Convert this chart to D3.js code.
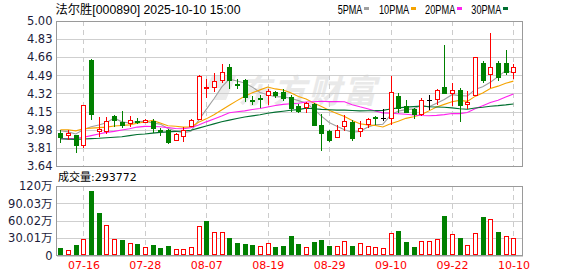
<!DOCTYPE html>
<html><head><meta charset="utf-8">
<script src="https://cdn.jsdelivr.net/npm/d3@7"></script>
<style>html,body{margin:0;padding:0;background:#fff;}svg{display:block;}</style>
</head><body>
<svg id="chart" width="578" height="276"></svg>
<script>
const dates = ["07-11","07-14","07-15","07-16","07-17","07-18","07-21","07-22","07-23","07-24","07-25","07-28","07-29","07-30","07-31","08-01","08-04","08-05","08-06","08-07","08-08","08-11","08-12","08-13","08-14","08-15","08-18","08-19","08-20","08-21","08-22","08-25","08-26","08-27","08-28","08-29","09-01","09-02","09-03","09-04","09-05","09-08","09-09","09-10","09-11","09-12","09-15","09-16","09-17","09-18","09-19","09-22","09-23","09-24","09-25","09-26","09-29","09-30","10-09","10-10"];
const opens = [3.95,3.928,3.93,3.837,4.634,3.971,3.968,4.106,4.056,4.04,4.06,4.053,4.059,3.975,3.978,3.884,3.924,4.015,4.078,4.376,4.384,4.447,4.569,4.41,4.447,4.262,4.275,4.303,4.334,4.334,4.29,4.206,4.193,4.226,4.025,3.965,3.915,4.018,4.056,3.964,4.034,4.10,4.09,4.087,4.297,4.203,4.172,4.132,4.26,4.266,4.381,4.328,4.35,4.217,4.303,4.606,4.50,4.603,4.603,4.519];
const highs = [3.978,3.975,3.935,4.215,4.64,4.10,4.097,4.118,4.156,4.112,4.087,4.081,4.08,3.994,3.984,3.945,4.003,4.081,4.49,4.453,4.51,4.597,4.594,4.453,4.453,4.30,4.305,4.362,4.346,4.36,4.306,4.226,4.24,4.233,4.128,3.978,4.025,4.114,4.076,4.062,4.093,4.108,4.17,4.486,4.322,4.259,4.181,4.275,4.31,4.36,4.775,4.416,4.372,4.34,4.66,4.625,4.89,4.625,4.728,4.597];
const lows = [3.856,3.884,3.762,3.806,4.07,3.909,3.937,4.009,3.994,4.009,4.034,4.05,3.952,3.921,3.843,3.878,3.868,4.003,4.07,4.275,4.337,4.416,4.365,4.36,4.243,4.212,4.18,4.215,4.275,4.252,4.144,4.134,4.137,4.012,3.784,3.868,3.903,3.97,3.874,3.915,3.994,4.02,4.062,4.025,4.14,4.134,4.081,4.109,4.165,4.21,4.315,4.203,4.053,4.175,4.30,4.423,4.369,4.44,4.498,4.456];
const closes = [3.915,3.952,3.84,4.212,4.125,3.99,4.059,4.071,4.027,4.071,4.055,4.069,3.999,3.97,3.868,3.94,3.978,4.071,4.484,4.381,4.44,4.519,4.447,4.40,4.284,4.25,4.265,4.342,4.303,4.278,4.187,4.153,4.228,4.022,3.952,3.884,3.978,4.062,3.907,3.994,4.078,4.09,4.09,4.334,4.181,4.149,4.128,4.256,4.26,4.353,4.322,4.353,4.212,4.24,4.66,4.45,4.564,4.475,4.524,4.564];
const volumes = [12.2,9.9,17.4,29,111.3,73,53.3,29,26.1,20.9,19.1,15.1,17.4,12.2,15.7,11.6,11.6,15.1,51.6,59.1,41.2,40,29.6,20.9,19.1,17.4,16.8,20.9,13.9,15.7,33,19.1,15.1,22.6,26.1,15.7,16.8,25.5,15.7,22,16.8,15.1,13.3,39.4,41.7,22.6,13.9,25.5,24.3,29,67.8,37.7,29.6,18.6,39.4,66.1,63.8,40,34.2,29.38];
const ma5 = [3.97,3.96,3.94,3.98,4.009,4.024,4.045,4.091,4.054,4.044,4.057,4.059,4.044,4.033,3.992,3.969,3.951,3.965,4.068,4.171,4.271,4.379,4.454,4.437,4.418,4.38,4.329,4.308,4.289,4.288,4.275,4.253,4.23,4.174,4.108,4.048,4.013,3.98,3.957,3.965,4.004,4.026,4.032,4.117,4.155,4.169,4.176,4.21,4.195,4.229,4.264,4.309,4.30,4.296,4.357,4.383,4.425,4.478,4.535,4.515];
const ma10 = [3.98,3.98,3.97,3.99,3.995,4.0,4.005,4.015,4.02,4.026,4.041,4.052,4.068,4.044,4.018,4.013,4.005,4.005,4.051,4.082,4.12,4.165,4.21,4.253,4.295,4.326,4.354,4.381,4.363,4.353,4.328,4.291,4.269,4.232,4.198,4.162,4.133,4.105,4.066,4.037,4.026,4.02,4.006,4.037,4.06,4.087,4.102,4.122,4.157,4.193,4.218,4.243,4.255,4.246,4.293,4.324,4.367,4.389,4.416,4.436];
const ma20 = [3.895,3.895,3.90,3.91,3.925,3.94,3.955,3.965,3.978,3.99,4.005,4.012,4.01,4.008,4.0,3.992,3.99,3.998,4.025,4.054,4.081,4.109,4.139,4.149,4.157,4.17,4.18,4.193,4.207,4.218,4.224,4.228,4.24,4.243,4.247,4.244,4.244,4.243,4.215,4.195,4.177,4.156,4.138,4.135,4.13,4.125,4.118,4.114,4.112,4.115,4.122,4.132,4.131,4.142,4.177,4.206,4.235,4.256,4.287,4.315];
const ma30 = [3.895,3.892,3.89,3.893,3.897,3.90,3.905,3.91,3.915,3.925,3.935,3.94,3.948,3.955,3.96,3.965,3.968,3.975,3.995,4.015,4.035,4.055,4.07,4.085,4.10,4.11,4.12,4.135,4.145,4.154,4.163,4.169,4.183,4.177,4.171,4.167,4.164,4.164,4.16,4.157,4.158,4.159,4.162,4.174,4.185,4.192,4.197,4.203,4.196,4.194,4.191,4.185,4.177,4.172,4.184,4.191,4.201,4.206,4.213,4.222];
const priceTicks = [3.64,3.81,3.98,4.15,4.32,4.49,4.66,4.83,5.00];
const volTicks = [0,30.01,60.02,90.03,120.04];
const volTickLabels = ["0","30.01万","60.02万","90.03万","120万"];
const dateTickLabels = ["07-16","07-28","08-07","08-19","08-29","09-10","09-22","10-10"];
const maNames = ["5PMA","10PMA","20PMA","30PMA"];
const maColors = ["#a0a0a0","#f5a300","#ff22ee","#006f30"];
const titleText = "法尔胜[000890] 2025-10-10 15:00";
const volTitle = "成交量:293772";

const RED = "#ff0000", GREEN = "#008000";
const L = 56.5, R = 522.5, PT = 21, PB = 166, VT = 186, VB = 255.5;

const svg = d3.select("#chart");
const x = d3.scaleLinear().domain([0, dates.length - 1]).range([60.4, 513.4]);
const y = d3.scaleLinear().domain([3.64, 5.00]).range([PB, PT]);
const yv = d3.scaleLinear().domain([0, 120.04]).range([VB, VT]);
const px = i => Math.round(x(i));

// watermark
const wm = svg.append("g");
wm.append("path").attr("d","M212,76 L236,76 L226,100 L214,100 L220,88 L206,88 Z").attr("fill","#ebebeb");
wm.append("text").attr("x",238).attr("y",103).attr("font-family","Noto Sans CJK SC").attr("font-size",33)
  .attr("font-weight","bold").attr("font-style","italic").attr("letter-spacing",2).attr("fill","#e9e9e9").text("东方财富");

// grids
const grid = svg.append("g").attr("shape-rendering","crispEdges");
grid.selectAll(".hp").data(priceTicks).enter().append("line")
  .attr("x1",L).attr("x2",R).attr("y1",d=>Math.round(y(d))+0.5).attr("y2",d=>Math.round(y(d))+0.5)
  .attr("stroke","#cfcfcf");
grid.selectAll(".hv").data(volTicks).enter().append("line")
  .attr("x1",L).attr("x2",R).attr("y1",d=>Math.round(yv(d))+0.5).attr("y2",d=>Math.round(yv(d))+0.5)
  .attr("stroke","#cfcfcf");
const tickIdx = dateTickLabels.map(l => dates.indexOf(l));
tickIdx.forEach(i => {
  [[PT,PB],[VT,VB]].forEach(([a,b]) => {
    grid.append("line").attr("x1",px(i)+0.5).attr("x2",px(i)+0.5).attr("y1",a).attr("y2",b)
      .attr("stroke","#cccccc").attr("stroke-dasharray","5,4");
  });
});
// frames
svg.append("rect").attr("x",L).attr("y",PT+0.5).attr("width",R-L).attr("height",PB-PT)
  .attr("fill","none").attr("stroke","#9a9a9a").attr("shape-rendering","crispEdges");
svg.append("rect").attr("x",L).attr("y",VT+0.5).attr("width",R-L).attr("height",VB-VT-0.5)
  .attr("fill","none").attr("stroke","#9a9a9a").attr("shape-rendering","crispEdges");

// MA lines
[ma5, ma10, ma20, ma30].forEach((arr, k) => {
  svg.append("path").datum(arr)
    .attr("d", d3.line().x((d,i)=>x(i)).y(d=>y(d)))
    .attr("fill","none").attr("stroke",maColors[k]).attr("stroke-width",1.1);
});

// candles
const cg = svg.append("g").attr("shape-rendering","crispEdges");
dates.forEach((d,i) => {
  const xi = px(i);
  const o = opens[i], c = closes[i];
  const yo = Math.round(y(o)), yc = Math.round(y(c));
  const yh = Math.round(y(highs[i])), yl = Math.round(y(lows[i]));
  const top = Math.min(yo,yc), bot = Math.max(yo,yc);
  const col = c > o ? RED : (c < o ? GREEN : "#000");
  if (bot - top < 2) {
    cg.append("line").attr("x1",xi+0.5).attr("x2",xi+0.5).attr("y1",yh).attr("y2",yl).attr("stroke",col);
    cg.append("line").attr("x1",xi-2).attr("x2",xi+3).attr("y1",top+0.5).attr("y2",top+0.5).attr("stroke",col);
    if (bot > top) cg.append("line").attr("x1",xi-2).attr("x2",xi+3).attr("y1",bot+0.5).attr("y2",bot+0.5).attr("stroke",col);
  } else if (c > o) {
    cg.append("line").attr("x1",xi+0.5).attr("x2",xi+0.5).attr("y1",yh).attr("y2",top).attr("stroke",col);
    cg.append("line").attr("x1",xi+0.5).attr("x2",xi+0.5).attr("y1",bot).attr("y2",yl).attr("stroke",col);
    cg.append("rect").attr("x",xi-1.5).attr("y",top+0.5).attr("width",4).attr("height",bot-top)
      .attr("fill","#fff").attr("stroke",col);
  } else {
    cg.append("line").attr("x1",xi+0.5).attr("x2",xi+0.5).attr("y1",yh).attr("y2",yl).attr("stroke",col);
    cg.append("rect").attr("x",xi-2).attr("y",top).attr("width",5).attr("height",bot-top+1).attr("fill",col);
  }
});

// volume bars
const vg = svg.append("g").attr("shape-rendering","crispEdges");
volumes.forEach((v,i) => {
  const xi = px(i);
  const up = i === 0 ? closes[0] > opens[0] : closes[i] >= closes[i-1];
  const yt = Math.round(yv(v));
  if (up) {
    vg.append("rect").attr("x",xi-1.5).attr("y",yt+0.5).attr("width",4).attr("height",255-yt-1)
      .attr("fill","#fff").attr("stroke",RED);
  } else {
    vg.append("rect").attr("x",xi-2).attr("y",yt).attr("width",5).attr("height",255-yt).attr("fill",GREEN);
  }
});

// axes
const axFont = "DejaVu Sans, Noto Sans CJK SC";
const ay = svg.append("g").attr("transform",`translate(${L},0)`)
  .call(d3.axisLeft(y).tickValues(priceTicks).tickFormat(d3.format(".2f")).tickSize(0).tickPadding(4));
const ayv = svg.append("g").attr("transform",`translate(${L},0)`)
  .call(d3.axisLeft(yv).tickValues(volTicks).tickFormat((d,i)=>volTickLabels[i]).tickSize(0).tickPadding(4));
const ax = svg.append("g").attr("transform",`translate(0,${VB})`)
  .call(d3.axisBottom(x).tickValues(tickIdx).tickFormat(i=>dates[i]).tickSize(0).tickPadding(6));
[ay, ayv, ax].forEach(g => {
  g.select(".domain").remove();
  g.selectAll("text").attr("font-family",axFont).attr("font-size",11.5);
});
ay.selectAll("text").attr("fill","#1c1c3a");
ayv.selectAll("text").attr("fill","#1c1c3a");
ax.selectAll("text").attr("fill",RED).attr("font-size",11);

// title
svg.append("text").attr("x",55.5).attr("y",14).attr("font-family","Liberation Sans, Noto Sans CJK SC")
  .attr("font-size",12).attr("textLength",185).attr("lengthAdjust","spacingAndGlyphs")
  .attr("fill","#000").text(titleText);
// legend
const legX = [337.7,379,425.1,471.3], legW = [24.7,30.2,30.2,30];
maNames.forEach((n,k) => {
  svg.append("text").attr("x",legX[k]).attr("y",14).attr("font-family","Liberation Sans")
    .attr("font-size",12).attr("textLength",legW[k]).attr("lengthAdjust","spacingAndGlyphs").attr("fill","#000").text(n);
  svg.append("rect").attr("x",Math.round(legX[k]+legW[k]+2)).attr("y",7).attr("width",5).attr("height",3).attr("fill",maColors[k]);
});
svg.append("text").attr("x",58).attr("y",181).attr("font-family","DejaVu Sans, Noto Sans CJK SC")
  .attr("font-size",11).attr("fill","#000").text(volTitle);
</script>
</body></html>
